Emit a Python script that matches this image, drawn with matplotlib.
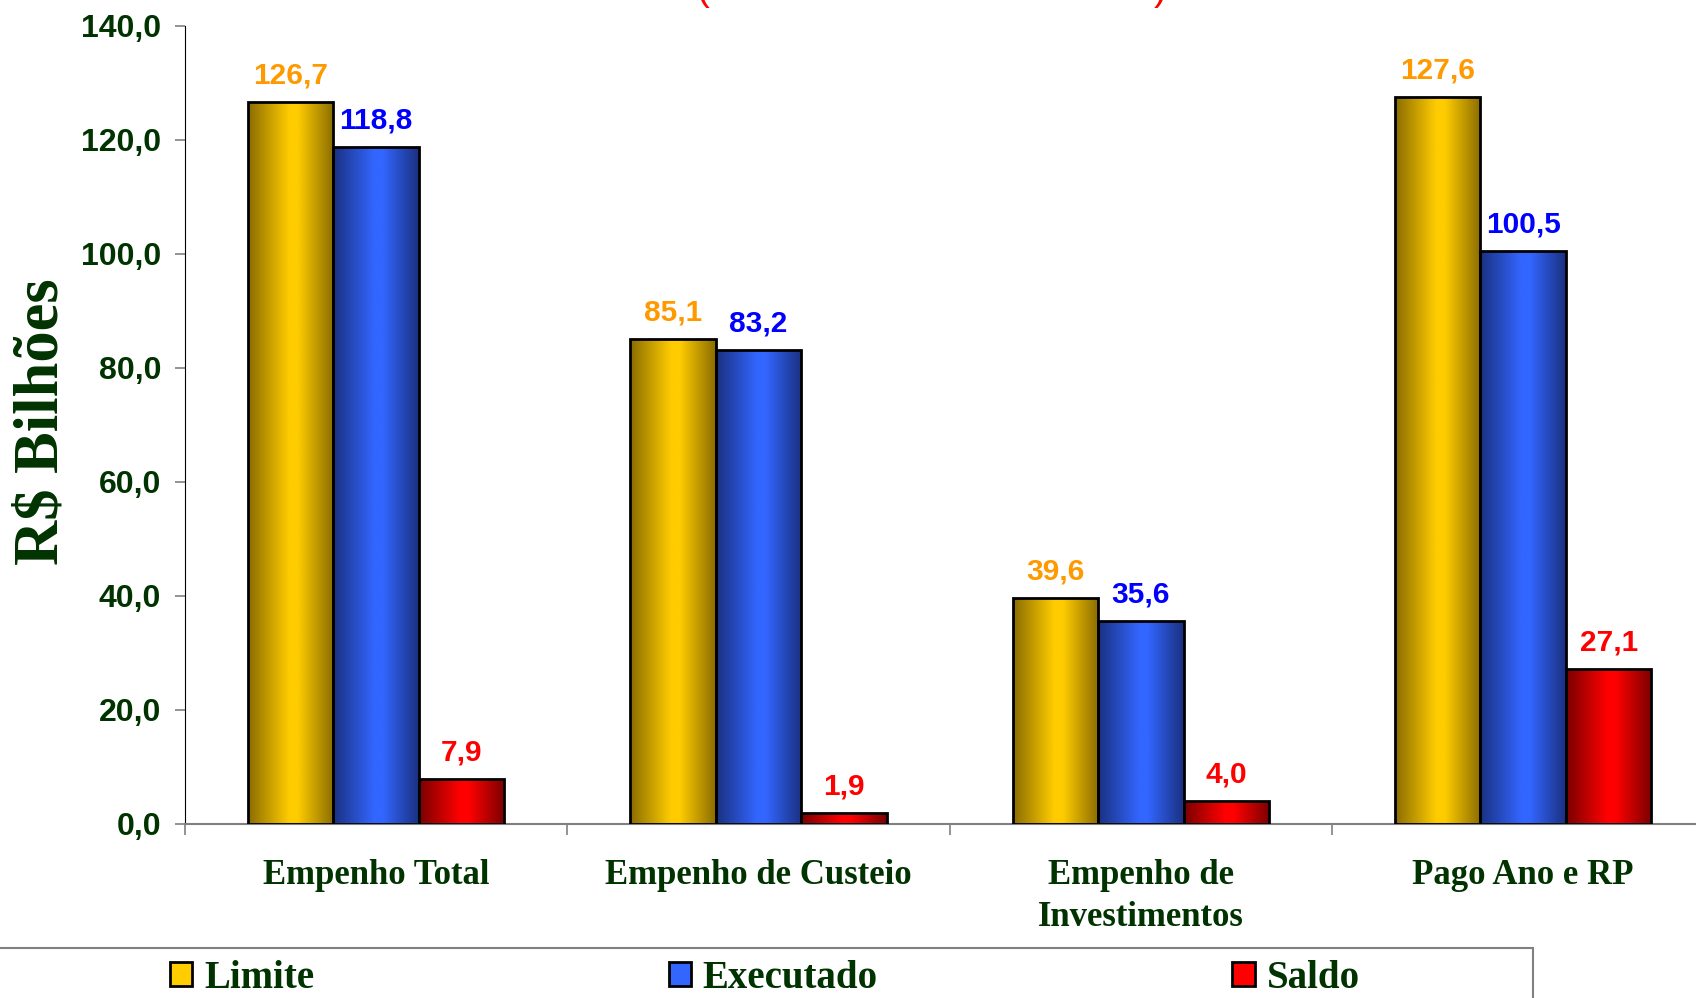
import numpy as np
import matplotlib.pyplot as plt
from matplotlib.colors import LinearSegmentedColormap
from matplotlib.patches import Patch, Rectangle

# dados (R$ bilhões)
categorias = ['Empenho Total', 'Empenho de Custeio', 'Empenho de\nInvestimentos', 'Pago Ano e RP']
series = ['Limite', 'Executado', 'Saldo']
limite = [126.7, 85.1, 39.6, 127.6]
executado = [118.8, 83.2, 35.6, 100.5]
saldo = [7.9, 1.9, 4.0, 27.1]

cor_claro = ['#ffcc00', '#3366ff', '#ff0000']
cor_escuro = ['#8a6c00', '#1a3080', '#7a0000']
cor_rotulo = ['#ff9900', '#0000ff', '#ff0000']
verde = '#003300'

SANS = 'Liberation Sans'
SERIF = 'Liberation Serif'

W, H = 1568.0, 923.0  # medidas tiradas da figura

fig = plt.figure(figsize=(16.96, 9.98), dpi=100)
ax = fig.add_axes([171 / W, 1 - 762 / H, 1414 / W, (762 - 24) / H])

x = np.arange(len(categorias))
larg = 0.2235
grad = np.linspace(0, 1, 256).reshape(1, -1)

for i, vals in enumerate([limite, executado, saldo]):
    cmap = LinearSegmentedColormap.from_list(
        'g%d' % i, [(0, cor_escuro[i]), (0.48, cor_claro[i]), (0.58, cor_claro[i]), (1, cor_escuro[i])])
    barras = ax.bar(x + (i - 1) * larg, vals, larg, color='none', edgecolor='black',
                    linewidth=2, zorder=3)
    for b in barras:
        x0, y0 = b.get_x(), b.get_y()
        im = ax.imshow(grad, extent=[x0, x0 + b.get_width(), y0, y0 + b.get_height()],
                       aspect='auto', cmap=cmap, zorder=2, interpolation='bilinear')
        im.set_clip_path(b)
    for b, v in zip(barras, vals):
        ax.annotate(('%.1f' % v).replace('.', ','), (b.get_x() + b.get_width() / 2, v),
                    xytext=(0, 9), textcoords='offset points', ha='center', va='bottom',
                    color=cor_rotulo[i], fontsize=21.5, fontweight='bold', family=SANS)

ax.set_xlim(-0.5, 3.5)
ax.set_ylim(0, 140)

ax.spines['top'].set_visible(False)
ax.spines['right'].set_visible(False)
ax.spines['left'].set_color('black')
ax.spines['bottom'].set_color('#808080')
ax.spines['bottom'].set_linewidth(1.5)

yt = np.arange(0, 141, 20)
ax.set_yticks(yt)
ax.set_yticklabels([('%.1f' % v).replace('.', ',') for v in yt], color=verde,
                   fontsize=23, fontweight='bold', family=SANS)
ax.tick_params(axis='y', length=7, width=1.2, color='#808080', pad=10)

ax.set_xticks(x)
ax.set_xticklabels(categorias, color=verde, fontsize=25, fontweight='bold', family=SERIF,
                   linespacing=1.36)
ax.tick_params(axis='x', which='major', length=0, pad=25)
ax.set_xticks([-0.5, 0.5, 1.5, 2.5, 3.5], minor=True)
ax.tick_params(axis='x', which='minor', length=8, width=1.2, color='#808080')

fig.text(39 / W, 1 - 390 / H, 'R$ Bilhões', rotation=90, ha='center', va='center',
         color=verde, fontsize=45, fontweight='bold', family=SERIF)

# pedaço do título cortado no topo
fig.text(650 / W, 1.0, '(', ha='center', va='baseline', color='red', fontsize=28, family=SANS)
fig.text(1073 / W, 1.0, ')', ha='center', va='baseline', color='red', fontsize=28, family=SANS)

# legenda
fig.add_artist(Rectangle((-0.01, -0.05), 0.01 + 1417 / W, 0.05 + 1 - 877 / H,
                         transform=fig.transFigure, facecolor='white', edgecolor='#808080',
                         linewidth=1.5, zorder=1))
handles = [Patch(facecolor=cor_claro[i], edgecolor='black', linewidth=2) for i in range(3)]
leg = fig.legend(handles, series, ncol=3, mode='expand', loc='center',
                 bbox_to_anchor=(157 / W, 1 - 905 / H - 0.02, (1257 - 157) / W, 0.04),
                 frameon=False, borderpad=0, borderaxespad=0, handlelength=0.58,
                 handleheight=0.58, handletextpad=0.3,
                 prop={'family': SERIF, 'weight': 'bold', 'size': 28})
for t in leg.get_texts():
    t.set_color(verde)
leg.set_zorder(2)

fig.savefig('out.png', dpi=100)
